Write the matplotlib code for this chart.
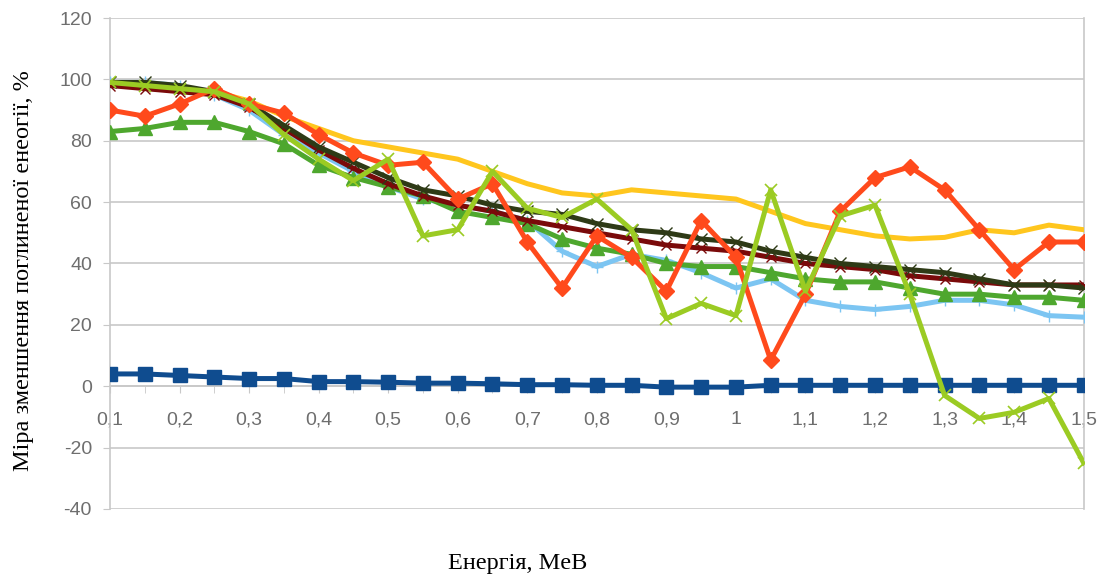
import numpy as np
import matplotlib
matplotlib.use("Agg")
import matplotlib.pyplot as plt
from matplotlib.ticker import FuncFormatter, MultipleLocator

energy = np.round(np.arange(0.1, 1.5001, 0.05), 2)

red = [90, 88, 92, 97, 92, 89, 82, 76, 72, 73, 61, 66, 47, 32, 49, 42, 31, 54, 42, 8.5,
       30, 57, 68, 71.5, 64, 51, 38, 47, 47]
blue = [4, 4, 3.5, 3, 2.5, 2.5, 1.5, 1.5, 1.3, 1, 1, 0.8, 0.5, 0.5, 0.3, 0.3, -0.3, -0.3, -0.3,
        0.3, 0.3, 0.3, 0.3, 0.3, 0.3, 0.3, 0.3, 0.3, 0.3]
green = [83, 84, 86, 86, 83, 79, 72, 68, 65, 62, 57, 55, 53, 48, 45, 43, 40, 39, 39,
         37, 35, 34, 34, 32, 30, 30, 29, 29, 28]
light_blue = [99, 99, 98, 95, 90, 82, 76, 70, 65, 61, 59, 57, 54, 44, 39, 43, 41, 37, 32,
              35, 28, 26, 25, 26, 28, 28, 26.5, 23, 22.5]
yellow = [99, 98, 97, 96, 93, 88, 84, 80, 78, 76, 74, 70, 66, 63, 62, 64, 63, 62, 61,
          57, 53, 51, 49, 48, 48.5, 51, 50, 52.5, 51]
maroon = [98, 97, 96, 95, 91, 84, 77, 71, 66, 62, 59, 57, 54, 52, 50, 48, 46, 45, 44,
          42, 40, 39, 38, 36, 35, 34, 33, 33, 33]
dark = [99, 99, 98, 96, 92, 85, 78, 73, 68, 64, 62, 59, 57, 56, 53, 51, 50, 48, 47,
        44, 42, 40, 39, 38, 37, 35, 33, 33, 32]
lime = [99, 98, 97, 96, 92, 82, 74, 67, 74, 49, 51, 70, 58, 55, 61, 51, 22, 27, 23,
        64, 31, 55.5, 59, 30, -3, -10.5, -8.5, -4, -25]

fig = plt.figure(figsize=(11.04, 5.81), dpi=100)
ax = fig.add_axes([0.0996, 0.124, 0.882, 0.845])

lw = 3.6
ax.plot(energy, blue, color="#0F4C8F", lw=lw, marker="s", ms=10, zorder=3)
ax.plot(energy, light_blue, color="#7CC5F2", lw=lw, marker="+", ms=8, mew=1, zorder=3)
ax.plot(energy, green, color="#4EA72E", lw=lw, marker="^", ms=10, zorder=3)
ax.plot(energy, yellow, color="#FFC61E", lw=lw, zorder=3)
ax.plot(energy, maroon, color="#7A0A0A", lw=lw, marker="x", ms=7, mew=1, zorder=3)
ax.plot(energy, dark, color="#2E3A16", lw=lw, marker="x", ms=8, mew=1, zorder=3)
ax.plot(energy, red, color="#FF4A1C", lw=lw, marker="D", ms=8, zorder=4)
ax.plot(energy, lime, color="#9BCB23", lw=lw, marker="x", ms=9, mew=1.2, zorder=5)

ax.set_xlim(0.1, 1.5)
ax.set_ylim(-40, 120)
ax.yaxis.set_major_locator(MultipleLocator(20))
ax.xaxis.set_major_locator(MultipleLocator(0.1))
ax.xaxis.set_minor_locator(MultipleLocator(0.05))
ax.xaxis.set_major_formatter(FuncFormatter(lambda v, p: ("%g" % round(v, 2)).replace(".", ",")))
ax.yaxis.set_major_formatter(FuncFormatter(lambda v, p: "%d" % v))

ax.grid(axis="y", color="#C8C8C8", lw=1.2, zorder=0)
ax.spines["top"].set_visible(False)
ax.spines["bottom"].set_position(("data", 0))
for s in ["left", "right", "bottom"]:
    ax.spines[s].set_color("#C8C8C8")
    ax.spines[s].set_linewidth(1.2)

ax.tick_params(axis="both", colors="#C8C8C8", labelcolor="#6E6E6E", labelsize=14, length=5)
ax.tick_params(axis="y", pad=8)
ax.tick_params(axis="x", which="major", pad=13)
ax.tick_params(axis="x", which="minor", colors="#C8C8C8", length=5)
for lab in ax.get_xticklabels() + ax.get_yticklabels():
    lab.set_family("Liberation Sans")

fig.text(0.469, 0.03, "Енергія, MeB", family="Liberation Serif", fontsize=17.5,
         ha="center", va="center")
fig.text(0.021, 0.535, "Міра зменшення поглиненої енеогії, %", family="Liberation Serif",
         fontsize=17.5, rotation=90, ha="center", va="center")

fig.savefig("out.png", dpi=100)
